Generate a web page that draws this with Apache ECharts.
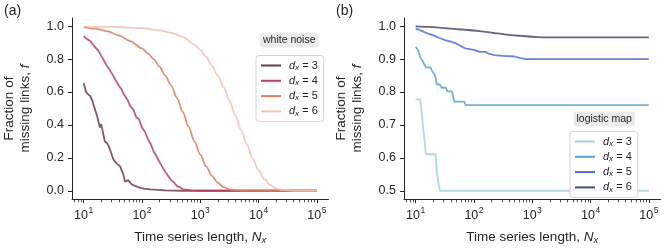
<!DOCTYPE html>
<html><head><meta charset="utf-8">
<script src="https://cdn.jsdelivr.net/npm/echarts@6/dist/echarts.min.js"></script>
<style>html,body{margin:0;padding:0;background:#fff}#c{width:664px;height:250px}</style>
</head><body><div id="c"></div>
<script>
// ---------- data ----------
const xTickExponents = [1, 2, 3, 4, 5];
const minorMultipliers = [2, 3, 4, 5, 6, 7, 8, 9];
const minorDecades = [0, 1, 2, 3, 4];
const yTicksA = [0, 0.2, 0.4, 0.6, 0.8, 1.0];
const yTicksB = [0.5, 0.6, 0.7, 0.8, 0.9, 1.0];
const legendNamesA = ['a3', 'a4', 'a5', 'a6'];
const legendNamesB = ['b3', 'b4', 'b5', 'b6'];

// (a) white noise
const wnN3 = [10,11,12,13,14,15,16,17,18,19,20,21,22,23,24,25,26,27,28,30,32,34,37,39,42,45,48,51,55,58,62,66,71,78,87,95,112,140,190,250,350,500,1000,10000,100000];
const wnF3 = [0.655,0.60,0.585,0.575,0.55,0.515,0.525,0.455,0.445,0.385,0.405,0.37,0.335,0.30,0.31,0.29,0.295,0.27,0.255,0.225,0.195,0.18,0.165,0.17,0.15,0.145,0.10,0.055,0.05,0.065,0.06,0.04,0.032,0.028,0.022,0.018,0.012,0.009,0.006,0.003,0.001,0,0,0,0];
const wnN4 = [10,11,13,14,16,18,20,22,25,28,32,35,40,45,50,56,63,71,79,89,100,112,126,141,158,178,200,224,251,282,316,355,398,447,501,562,708,1000,10000,100000];
const wnF4 = [0.94,0.925,0.91,0.895,0.87,0.85,0.82,0.795,0.76,0.735,0.70,0.675,0.64,0.615,0.58,0.555,0.515,0.495,0.45,0.435,0.385,0.36,0.315,0.285,0.24,0.21,0.175,0.145,0.115,0.09,0.065,0.05,0.028,0.022,0.009,0.007,0.002,0,0,0];
const wnN5 = [10,16,25,40,63,100,126,158,200,251,316,398,501,631,794,1000,1259,1585,1995,2512,3162,3981,6310,10000,100000];
const wnF5 = [0.993,0.985,0.97,0.945,0.91,0.865,0.835,0.80,0.755,0.70,0.64,0.565,0.48,0.39,0.30,0.22,0.15,0.09,0.05,0.022,0.008,0.002,0,0,0];
const wnN6 = [10,32,100,200,316,501,794,1000,1259,1585,1995,2512,3162,3981,5012,6310,7943,10000,12589,15849,19953,25119,39811,100000];
const wnF6 = [0.998,0.996,0.988,0.975,0.96,0.935,0.89,0.855,0.815,0.76,0.70,0.63,0.55,0.46,0.37,0.28,0.195,0.125,0.07,0.035,0.015,0.005,0,0];

// (b) logistic map
const lmN3 = [10,11,12,15,18,20,22,23,24,26,30,100,1000,10000,100000];
const lmF3 = [0.778,0.778,0.778,0.611,0.611,0.611,0.611,0.556,0.556,0.5,0.5,0.5,0.5,0.5,0.5];
const lmN4 = [10,11,12,13,14,15,18,19,21,22,23,26,28,33,35,42,46,68,72,100,1000,10000,100000];
const lmF4 = [0.9375,0.927,0.906,0.896,0.885,0.875,0.875,0.865,0.854,0.844,0.823,0.823,0.813,0.813,0.802,0.802,0.771,0.771,0.760,0.760,0.760,0.760,0.760];
const lmN5 = [10,13,16,20,25,32,40,50,56,63,71,89,100,126,158,178,224,316,501,631,794,1000,10000,100000];
const lmF5 = [0.993,0.985,0.978,0.972,0.965,0.958,0.953,0.947,0.943,0.937,0.933,0.93,0.928,0.922,0.922,0.917,0.912,0.91,0.908,0.903,0.90,0.90,0.90,0.90];
const lmN6 = [10,16,25,40,63,100,158,251,398,631,1000,1585,10000,100000];
const lmF6 = [0.9995,0.998,0.996,0.993,0.99,0.987,0.983,0.978,0.974,0.971,0.968,0.966,0.966,0.966];

// ---------- styles ----------
const FONT = "'Liberation Sans', Arial, Helvetica, sans-serif";
const AX = '#262626';
const colorsA = ['#6b3d4a', '#b3455f', '#d67f64', '#f0c2b2'];
const colorsB = ['#a9d1dc', '#5aa4d4', '#5070d0', '#4a4c6c'];
const LOGMIN = 0.8, LOGMAX = 5.2;
const GRID_A = {left: 72, top: 18, width: 256.5, height: 182};
const GRID_B = {left: 404, top: 18, width: 256.5, height: 182};

const minorTicks = [];
minorDecades.forEach(d => minorMultipliers.forEach(m => {
  const v = d + Math.log10(m);
  if (v > LOGMIN && v < LOGMAX) minorTicks.push(v);
}));

function pts(N, F) { return N.map((n, i) => [Math.log10(n), F[i]]); }

const xRich = {
  b: {fontSize: 12.5, fontFamily: FONT, color: AX, lineHeight: 16, verticalAlign: 'bottom'},
  s: {fontSize: 8.5, fontFamily: FONT, color: AX, lineHeight: 16, verticalAlign: 'top', padding: [0, 0, 0, 0.5]}
};
const nameRich = {
  i: {fontStyle: 'italic', fontSize: 13.5, fontFamily: FONT, color: AX},
  sub: {fontStyle: 'italic', fontSize: 9.5, fontFamily: FONT, color: AX, verticalAlign: 'bottom', padding: [6, 0, 0, 0]}
};

function majorX(g) {
  return {
    gridIndex: g, type: 'value', min: LOGMIN, max: LOGMAX, position: 'bottom',
    axisLine: {show: true, onZero: false, lineStyle: {color: AX, width: 1}},
    axisTick: {show: true, length: 4, customValues: xTickExponents, lineStyle: {color: AX, width: 1}},
    axisLabel: {customValues: xTickExponents, margin: 7, formatter: v => '{b|10}{s|' + Math.round(v) + '}', rich: xRich},
    splitLine: {show: false},
    name: 'Time series length, {i|N}{sub|x}', nameLocation: 'middle', nameGap: 30,
    nameTextStyle: {fontSize: 13.5, fontFamily: FONT, color: AX, rich: nameRich}
  };
}
// minor log ticks: the x axis of an identical overlay grid
function minorX(g) {
  return {
    gridIndex: g, type: 'value', min: LOGMIN, max: LOGMAX, show: true,
    axisLine: {show: false},
    axisTick: {show: true, length: 2.3, customValues: minorTicks, lineStyle: {color: AX, width: 0.8}},
    axisLabel: {show: false}, splitLine: {show: false}
  };
}
function hiddenY(g) {
  return {gridIndex: g, type: 'value', min: 0, max: 1, show: false};
}
function yAx(g, min, max, ticks) {
  return {
    gridIndex: g, type: 'value', min: min, max: max,
    axisLine: {show: true, onZero: false, lineStyle: {color: AX, width: 1}},
    axisTick: {show: true, length: 4, customValues: ticks, lineStyle: {color: AX, width: 1}},
    axisLabel: {customValues: ticks, margin: 8, fontSize: 12.5, fontFamily: FONT, color: AX, formatter: v => v.toFixed(1)},
    splitLine: {show: false},
    name: 'Fraction of\nmissing links, {i|f}', nameLocation: 'middle', nameGap: 39, nameRotate: 90,
    nameTextStyle: {fontSize: 13.5, fontFamily: FONT, color: AX, lineHeight: 16, align: 'center', rich: nameRich}
  };
}
function line(name, N, F, color, xi, yi, smooth) {
  return {
    name: name, type: 'line', xAxisIndex: xi, yAxisIndex: yi, data: pts(N, F),
    showSymbol: false, smooth: smooth ? 0.3 : false, smoothMonotone: 'x',
    lineStyle: {color: color, width: 1.8, opacity: 0.85}, itemStyle: {color: color},
    animation: false
  };
}
const legendRich = {
  d: {fontStyle: 'italic', fontSize: 11, fontFamily: FONT, color: AX},
  x: {fontStyle: 'italic', fontSize: 8, fontFamily: FONT, color: AX, verticalAlign: 'bottom', padding: [4, 0, 0, 0]},
  t: {fontSize: 11, fontFamily: FONT, color: AX}
};
function legend(names, left, top) {
  return {
    data: names, orient: 'vertical', left: left, top: top,
    icon: 'rect', itemWidth: 20, itemHeight: 2, itemGap: 3.3,
    padding: [4, 6, 4, 5],
    borderColor: '#d4d4d4', borderWidth: 1, borderRadius: 3, backgroundColor: 'rgba(255,255,255,0.85)',
    formatter: n => '{d|d}{x|x}{t| = ' + n.slice(1) + '}',
    textStyle: {fontSize: 11, fontFamily: FONT, color: AX, lineHeight: 12, padding: [0, 0, 0, 3], rich: legendRich},
    selectedMode: false
  };
}
const boxTitle = (text, left, top) => ({
  text: text, left: left, top: top, padding: [2, 3, 2, 3],
  backgroundColor: '#ebebeb', borderRadius: 3,
  textStyle: {fontSize: 10.5, fontWeight: 'normal', fontFamily: FONT, color: AX, lineHeight: 10}
});

const chart = echarts.init(document.getElementById('c'));
chart.setOption({
  animation: false,
  backgroundColor: '#fff',
  title: [
    {text: '(a)', left: 4, top: 4, padding: 0, textStyle: {fontSize: 14, fontWeight: 'normal', fontFamily: FONT, color: AX}},
    {text: '(b)', left: 336, top: 4, padding: 0, textStyle: {fontSize: 14, fontWeight: 'normal', fontFamily: FONT, color: AX}},
    boxTitle('white noise', 260, 33),
    boxTitle('logistic map', 573.5, 112)
  ],
  grid: [GRID_A, GRID_B, Object.assign({}, GRID_A), Object.assign({}, GRID_B)],
  xAxis: [majorX(0), majorX(1), minorX(2), minorX(3)],
  yAxis: [yAx(0, -0.05, 1.05, yTicksA), yAx(1, 0.475, 1.025, yTicksB), hiddenY(2), hiddenY(3)],
  legend: [legend(legendNamesA, 256, 55.5), legend(legendNamesB, 570, 131.5)],
  series: [
    line('a3', wnN3, wnF3, colorsA[0], 0, 0, false),
    line('a4', wnN4, wnF4, colorsA[1], 0, 0, false),
    line('a5', wnN5, wnF5, colorsA[2], 0, 0, true),
    line('a6', wnN6, wnF6, colorsA[3], 0, 0, true),
    line('b3', lmN3, lmF3, colorsB[0], 1, 1, false),
    line('b4', lmN4, lmF4, colorsB[1], 1, 1, false),
    line('b5', lmN5, lmF5, colorsB[2], 1, 1, false),
    line('b6', lmN6, lmF6, colorsB[3], 1, 1, true)
  ]
});
</script></body></html>
